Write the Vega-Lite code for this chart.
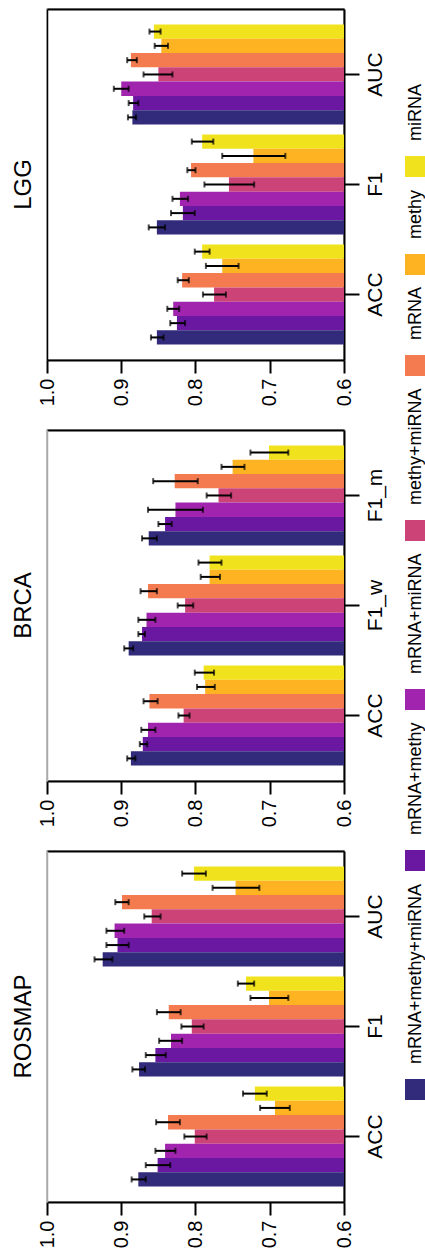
{
  "$schema": "https://vega.github.io/schema/vega-lite/v6.json",
  "padding": {"left": 11, "top": 8, "right": 0, "bottom": 5},
  "config": {
    "font": "Liberation Sans",
    "view": {"stroke": "#aaaaaa", "strokeWidth": 1.5},
    "legend": {"layout": {"right": {"anchor": "middle"}}}
  },
  "datasets": {
    "d": [
      {"ds":"ROSMAP","metric":"AUC","method":"miRNA","value":0.802,"lo":0.786,"hi":0.818},
      {"ds":"ROSMAP","metric":"AUC","method":"methy","value":0.746,"lo":0.714,"hi":0.777},
      {"ds":"ROSMAP","metric":"AUC","method":"mRNA","value":0.899,"lo":0.890,"hi":0.908},
      {"ds":"ROSMAP","metric":"AUC","method":"methy+miRNA","value":0.859,"lo":0.847,"hi":0.869},
      {"ds":"ROSMAP","metric":"AUC","method":"mRNA+miRNA","value":0.909,"lo":0.896,"hi":0.920},
      {"ds":"ROSMAP","metric":"AUC","method":"mRNA+methy","value":0.905,"lo":0.890,"hi":0.920},
      {"ds":"ROSMAP","metric":"AUC","method":"mRNA+methy+miRNA","value":0.925,"lo":0.912,"hi":0.936},
      {"ds":"ROSMAP","metric":"F1","method":"miRNA","value":0.732,"lo":0.721,"hi":0.743},
      {"ds":"ROSMAP","metric":"F1","method":"methy","value":0.701,"lo":0.675,"hi":0.726},
      {"ds":"ROSMAP","metric":"F1","method":"mRNA","value":0.836,"lo":0.820,"hi":0.852},
      {"ds":"ROSMAP","metric":"F1","method":"methy+miRNA","value":0.805,"lo":0.789,"hi":0.819},
      {"ds":"ROSMAP","metric":"F1","method":"mRNA+miRNA","value":0.833,"lo":0.818,"hi":0.849},
      {"ds":"ROSMAP","metric":"F1","method":"mRNA+methy","value":0.854,"lo":0.840,"hi":0.867},
      {"ds":"ROSMAP","metric":"F1","method":"mRNA+methy+miRNA","value":0.876,"lo":0.868,"hi":0.885},
      {"ds":"ROSMAP","metric":"ACC","method":"miRNA","value":0.720,"lo":0.704,"hi":0.736},
      {"ds":"ROSMAP","metric":"ACC","method":"methy","value":0.693,"lo":0.673,"hi":0.713},
      {"ds":"ROSMAP","metric":"ACC","method":"mRNA","value":0.837,"lo":0.821,"hi":0.853},
      {"ds":"ROSMAP","metric":"ACC","method":"methy+miRNA","value":0.801,"lo":0.785,"hi":0.815},
      {"ds":"ROSMAP","metric":"ACC","method":"mRNA+miRNA","value":0.841,"lo":0.827,"hi":0.854},
      {"ds":"ROSMAP","metric":"ACC","method":"mRNA+methy","value":0.851,"lo":0.834,"hi":0.867},
      {"ds":"ROSMAP","metric":"ACC","method":"mRNA+methy+miRNA","value":0.877,"lo":0.867,"hi":0.886},
      {"ds":"BRCA","metric":"F1_m","method":"miRNA","value":0.701,"lo":0.675,"hi":0.726},
      {"ds":"BRCA","metric":"F1_m","method":"methy","value":0.750,"lo":0.734,"hi":0.765},
      {"ds":"BRCA","metric":"F1_m","method":"mRNA","value":0.828,"lo":0.797,"hi":0.857},
      {"ds":"BRCA","metric":"F1_m","method":"methy+miRNA","value":0.769,"lo":0.752,"hi":0.785},
      {"ds":"BRCA","metric":"F1_m","method":"mRNA+miRNA","value":0.827,"lo":0.790,"hi":0.864},
      {"ds":"BRCA","metric":"F1_m","method":"mRNA+methy","value":0.841,"lo":0.832,"hi":0.850},
      {"ds":"BRCA","metric":"F1_m","method":"mRNA+methy+miRNA","value":0.863,"lo":0.852,"hi":0.872},
      {"ds":"BRCA","metric":"F1_w","method":"miRNA","value":0.781,"lo":0.765,"hi":0.796},
      {"ds":"BRCA","metric":"F1_w","method":"methy","value":0.781,"lo":0.767,"hi":0.793},
      {"ds":"BRCA","metric":"F1_w","method":"mRNA","value":0.864,"lo":0.852,"hi":0.874},
      {"ds":"BRCA","metric":"F1_w","method":"methy+miRNA","value":0.814,"lo":0.803,"hi":0.824},
      {"ds":"BRCA","metric":"F1_w","method":"mRNA+miRNA","value":0.866,"lo":0.854,"hi":0.877},
      {"ds":"BRCA","metric":"F1_w","method":"mRNA+methy","value":0.872,"lo":0.868,"hi":0.877},
      {"ds":"BRCA","metric":"F1_w","method":"mRNA+methy+miRNA","value":0.890,"lo":0.884,"hi":0.896},
      {"ds":"BRCA","metric":"ACC","method":"miRNA","value":0.789,"lo":0.775,"hi":0.801},
      {"ds":"BRCA","metric":"ACC","method":"methy","value":0.787,"lo":0.774,"hi":0.798},
      {"ds":"BRCA","metric":"ACC","method":"mRNA","value":0.862,"lo":0.851,"hi":0.870},
      {"ds":"BRCA","metric":"ACC","method":"methy+miRNA","value":0.816,"lo":0.808,"hi":0.823},
      {"ds":"BRCA","metric":"ACC","method":"mRNA+miRNA","value":0.864,"lo":0.854,"hi":0.873},
      {"ds":"BRCA","metric":"ACC","method":"mRNA+methy","value":0.871,"lo":0.865,"hi":0.875},
      {"ds":"BRCA","metric":"ACC","method":"mRNA+methy+miRNA","value":0.887,"lo":0.881,"hi":0.892},
      {"ds":"LGG","metric":"AUC","method":"miRNA","value":0.856,"lo":0.847,"hi":0.862},
      {"ds":"LGG","metric":"AUC","method":"methy","value":0.846,"lo":0.837,"hi":0.855},
      {"ds":"LGG","metric":"AUC","method":"mRNA","value":0.887,"lo":0.879,"hi":0.892},
      {"ds":"LGG","metric":"AUC","method":"methy+miRNA","value":0.850,"lo":0.831,"hi":0.870},
      {"ds":"LGG","metric":"AUC","method":"mRNA+miRNA","value":0.900,"lo":0.890,"hi":0.910},
      {"ds":"LGG","metric":"AUC","method":"mRNA+methy","value":0.884,"lo":0.877,"hi":0.890},
      {"ds":"LGG","metric":"AUC","method":"mRNA+methy+miRNA","value":0.885,"lo":0.880,"hi":0.891},
      {"ds":"LGG","metric":"F1","method":"miRNA","value":0.791,"lo":0.776,"hi":0.805},
      {"ds":"LGG","metric":"F1","method":"methy","value":0.722,"lo":0.679,"hi":0.764},
      {"ds":"LGG","metric":"F1","method":"mRNA","value":0.806,"lo":0.800,"hi":0.811},
      {"ds":"LGG","metric":"F1","method":"methy+miRNA","value":0.755,"lo":0.721,"hi":0.788},
      {"ds":"LGG","metric":"F1","method":"mRNA+miRNA","value":0.821,"lo":0.810,"hi":0.831},
      {"ds":"LGG","metric":"F1","method":"mRNA+methy","value":0.817,"lo":0.801,"hi":0.833},
      {"ds":"LGG","metric":"F1","method":"mRNA+methy+miRNA","value":0.852,"lo":0.841,"hi":0.863},
      {"ds":"LGG","metric":"ACC","method":"miRNA","value":0.791,"lo":0.781,"hi":0.801},
      {"ds":"LGG","metric":"ACC","method":"methy","value":0.764,"lo":0.742,"hi":0.786},
      {"ds":"LGG","metric":"ACC","method":"mRNA","value":0.818,"lo":0.809,"hi":0.824},
      {"ds":"LGG","metric":"ACC","method":"methy+miRNA","value":0.775,"lo":0.759,"hi":0.790},
      {"ds":"LGG","metric":"ACC","method":"mRNA+miRNA","value":0.830,"lo":0.822,"hi":0.838},
      {"ds":"LGG","metric":"ACC","method":"mRNA+methy","value":0.825,"lo":0.814,"hi":0.834},
      {"ds":"LGG","metric":"ACC","method":"mRNA+methy+miRNA","value":0.852,"lo":0.843,"hi":0.860}
    ]
  },
  "data": {"name": "d"},
  "spacing": 70,
  "bounds": "flush",
  "resolve": {"scale": {"x": "independent", "y": "independent", "yOffset": "independent", "color": "shared"}},
  "vconcat": [
    {
      "width": 297, "height": 351,
      "title": {"text": "LGG", "orient": "left", "anchor": "middle", "fontSize": 24, "fontWeight": "normal", "color": "black", "offset": 1},
      "transform": [{"filter": "datum.ds === 'LGG'"}],
      "encoding": {
        "y": {"field": "metric", "type": "nominal", "sort": ["AUC","F1","ACC"], "scale": {"paddingInner": 0.09, "paddingOuter": 0.14}, "axis": null},
        "yOffset": {"field": "method", "type": "nominal", "sort": ["miRNA","methy","mRNA","methy+miRNA","mRNA+miRNA","mRNA+methy","mRNA+methy+miRNA"], "scale": {"paddingInner": 0, "paddingOuter": 0}}
      },
      "layer": [
        {
          "mark": {"type": "bar"},
          "encoding": {
            "y": {"field": "metric", "type": "nominal", "sort": ["AUC","F1","ACC"], "scale": {"paddingInner": 0.09, "paddingOuter": 0.14},
              "axis": {"orient": "right", "title": null, "labelAngle": -90, "labelAlign": "center", "labelBaseline": "top", "labelFontSize": 21, "labelColor": "black", "labelPadding": 5, "tickSize": 15, "tickWidth": 2, "tickColor": "black", "domainColor": "black", "domainWidth": 2}},
            "x": {"field": "value", "type": "quantitative", "scale": {"domain": [0.6, 1.0], "reverse": true, "nice": false, "zero": false},
              "axis": {"orient": "bottom", "title": null, "values": [0.6,0.7,0.8,0.9,1.0], "format": ".1f", "labelAngle": -90, "labelAlign": "right", "labelBaseline": "middle", "labelFontSize": 20, "labelColor": "black", "tickSize": 13, "tickWidth": 2, "tickColor": "black", "domainColor": "black", "domainWidth": 2, "labelPadding": 5, "grid": false, "labelFlush": false, "labelOverlap": false}},
            "x2": {"datum": 0.6},
            "color": {"field": "method", "type": "nominal",
              "scale": {"domain": ["miRNA","methy","mRNA","methy+miRNA","mRNA+miRNA","mRNA+methy","mRNA+methy+miRNA"], "range": ["#f0e31e","#fdb322","#f37b4f","#cc4477","#a024ad","#6a17a2","#322a7b"]},
              "legend": {"title": null, "orient": "right", "offset": 19, "symbolType": "square", "symbolSize": 441, "symbolStrokeWidth": 0, "symbolOpacity": 1, "labelFontSize": 18, "labelColor": "black", "labelOffset": 0, "rowPadding": 12, "labelLimit": 300,
                "encoding": {"labels": {"angle": {"value": -90}, "dx": {"value": 25.5}, "dy": {"value": -10.5}, "align": {"value": "left"}, "baseline": {"value": "middle"}}}}}
          }
        },
        {
          "mark": {"type": "rule", "color": "black", "strokeWidth": 2},
          "encoding": {
            "y": {"field": "metric", "type": "nominal", "sort": ["AUC","F1","ACC"], "scale": {"paddingInner": 0.09, "paddingOuter": 0.14},
              "axis": {"orient": "left", "labels": false, "ticks": false, "title": null, "domainColor": "black", "domainWidth": 1.5}},
            "x": {"field": "lo", "type": "quantitative", "scale": {"domain": [0.6, 1.0], "reverse": true, "nice": false, "zero": false},
              "axis": {"orient": "top", "labels": false, "ticks": false, "title": null, "grid": false, "domainColor": "black", "domainWidth": 2}},
            "x2": {"field": "hi"}
          }
        },
        {
          "mark": {"type": "tick", "color": "black", "thickness": 2, "size": 6},
          "encoding": {"x": {"field": "lo", "type": "quantitative", "scale": {"domain": [0.6, 1.0], "reverse": true, "nice": false, "zero": false}, "axis": null}}
        },
        {
          "mark": {"type": "tick", "color": "black", "thickness": 2, "size": 6},
          "encoding": {"x": {"field": "hi", "type": "quantitative", "scale": {"domain": [0.6, 1.0], "reverse": true, "nice": false, "zero": false}, "axis": null}}
        }
      ]
    },
    {
      "width": 297, "height": 351,
      "title": {"text": "BRCA", "orient": "left", "anchor": "middle", "fontSize": 24, "fontWeight": "normal", "color": "black", "offset": 1},
      "transform": [{"filter": "datum.ds === 'BRCA'"}],
      "encoding": {
        "y": {"field": "metric", "type": "nominal", "sort": ["F1_m","F1_w","ACC"], "scale": {"paddingInner": 0.09, "paddingOuter": 0.14}, "axis": null},
        "yOffset": {"field": "method", "type": "nominal", "sort": ["miRNA","methy","mRNA","methy+miRNA","mRNA+miRNA","mRNA+methy","mRNA+methy+miRNA"], "scale": {"paddingInner": 0, "paddingOuter": 0}}
      },
      "layer": [
        {
          "mark": {"type": "bar"},
          "encoding": {
            "y": {"field": "metric", "type": "nominal", "sort": ["F1_m","F1_w","ACC"], "scale": {"paddingInner": 0.09, "paddingOuter": 0.14},
              "axis": {"orient": "right", "title": null, "labelAngle": -90, "labelAlign": "center", "labelBaseline": "top", "labelFontSize": 21, "labelColor": "black", "labelPadding": 5, "tickSize": 15, "tickWidth": 2, "tickColor": "black", "domainColor": "black", "domainWidth": 2}},
            "x": {"field": "value", "type": "quantitative", "scale": {"domain": [0.6, 1.0], "reverse": true, "nice": false, "zero": false},
              "axis": {"orient": "bottom", "title": null, "values": [0.6,0.7,0.8,0.9,1.0], "format": ".1f", "labelAngle": -90, "labelAlign": "right", "labelBaseline": "middle", "labelFontSize": 20, "labelColor": "black", "tickSize": 13, "tickWidth": 2, "tickColor": "black", "domainColor": "black", "domainWidth": 2, "labelPadding": 5, "grid": false, "labelFlush": false, "labelOverlap": false}},
            "x2": {"datum": 0.6},
            "color": {"field": "method", "type": "nominal"}
          }
        },
        {
          "mark": {"type": "rule", "color": "black", "strokeWidth": 2},
          "encoding": {
            "y": {"field": "metric", "type": "nominal", "sort": ["F1_m","F1_w","ACC"], "scale": {"paddingInner": 0.09, "paddingOuter": 0.14},
              "axis": {"orient": "left", "labels": false, "ticks": false, "title": null, "domainColor": "#aaaaaa", "domainWidth": 1.5}},
            "x": {"field": "lo", "type": "quantitative", "scale": {"domain": [0.6, 1.0], "reverse": true, "nice": false, "zero": false},
              "axis": {"orient": "top", "labels": false, "ticks": false, "title": null, "grid": false, "domainColor": "black", "domainWidth": 2}},
            "x2": {"field": "hi"}
          }
        },
        {
          "mark": {"type": "tick", "color": "black", "thickness": 2, "size": 6},
          "encoding": {"x": {"field": "lo", "type": "quantitative", "scale": {"domain": [0.6, 1.0], "reverse": true, "nice": false, "zero": false}, "axis": null}}
        },
        {
          "mark": {"type": "tick", "color": "black", "thickness": 2, "size": 6},
          "encoding": {"x": {"field": "hi", "type": "quantitative", "scale": {"domain": [0.6, 1.0], "reverse": true, "nice": false, "zero": false}, "axis": null}}
        }
      ]
    },
    {
      "width": 297, "height": 351,
      "title": {"text": "ROSMAP", "orient": "left", "anchor": "middle", "fontSize": 24, "fontWeight": "normal", "color": "black", "offset": 1},
      "transform": [{"filter": "datum.ds === 'ROSMAP'"}],
      "encoding": {
        "y": {"field": "metric", "type": "nominal", "sort": ["AUC","F1","ACC"], "scale": {"paddingInner": 0.09, "paddingOuter": 0.14}, "axis": null},
        "yOffset": {"field": "method", "type": "nominal", "sort": ["miRNA","methy","mRNA","methy+miRNA","mRNA+miRNA","mRNA+methy","mRNA+methy+miRNA"], "scale": {"paddingInner": 0, "paddingOuter": 0}}
      },
      "layer": [
        {
          "mark": {"type": "bar"},
          "encoding": {
            "y": {"field": "metric", "type": "nominal", "sort": ["AUC","F1","ACC"], "scale": {"paddingInner": 0.09, "paddingOuter": 0.14},
              "axis": {"orient": "right", "title": null, "labelAngle": -90, "labelAlign": "center", "labelBaseline": "top", "labelFontSize": 21, "labelColor": "black", "labelPadding": 5, "tickSize": 15, "tickWidth": 2, "tickColor": "black", "domainColor": "black", "domainWidth": 2}},
            "x": {"field": "value", "type": "quantitative", "scale": {"domain": [0.6, 1.0], "reverse": true, "nice": false, "zero": false},
              "axis": {"orient": "bottom", "title": null, "values": [0.6,0.7,0.8,0.9,1.0], "format": ".1f", "labelAngle": -90, "labelAlign": "right", "labelBaseline": "middle", "labelFontSize": 20, "labelColor": "black", "tickSize": 13, "tickWidth": 2, "tickColor": "black", "domainColor": "black", "domainWidth": 2, "labelPadding": 5, "grid": false, "labelFlush": false, "labelOverlap": false}},
            "x2": {"datum": 0.6},
            "color": {"field": "method", "type": "nominal"}
          }
        },
        {
          "mark": {"type": "rule", "color": "black", "strokeWidth": 2},
          "encoding": {
            "y": {"field": "metric", "type": "nominal", "sort": ["AUC","F1","ACC"], "scale": {"paddingInner": 0.09, "paddingOuter": 0.14},
              "axis": {"orient": "left", "labels": false, "ticks": false, "title": null, "domainColor": "#aaaaaa", "domainWidth": 1.5}},
            "x": {"field": "lo", "type": "quantitative", "scale": {"domain": [0.6, 1.0], "reverse": true, "nice": false, "zero": false},
              "axis": {"orient": "top", "labels": false, "ticks": false, "title": null, "grid": false, "domainColor": "black", "domainWidth": 2}},
            "x2": {"field": "hi"}
          }
        },
        {
          "mark": {"type": "tick", "color": "black", "thickness": 2, "size": 6},
          "encoding": {"x": {"field": "lo", "type": "quantitative", "scale": {"domain": [0.6, 1.0], "reverse": true, "nice": false, "zero": false}, "axis": null}}
        },
        {
          "mark": {"type": "tick", "color": "black", "thickness": 2, "size": 6},
          "encoding": {"x": {"field": "hi", "type": "quantitative", "scale": {"domain": [0.6, 1.0], "reverse": true, "nice": false, "zero": false}, "axis": null}}
        }
      ]
    }
  ]
}
